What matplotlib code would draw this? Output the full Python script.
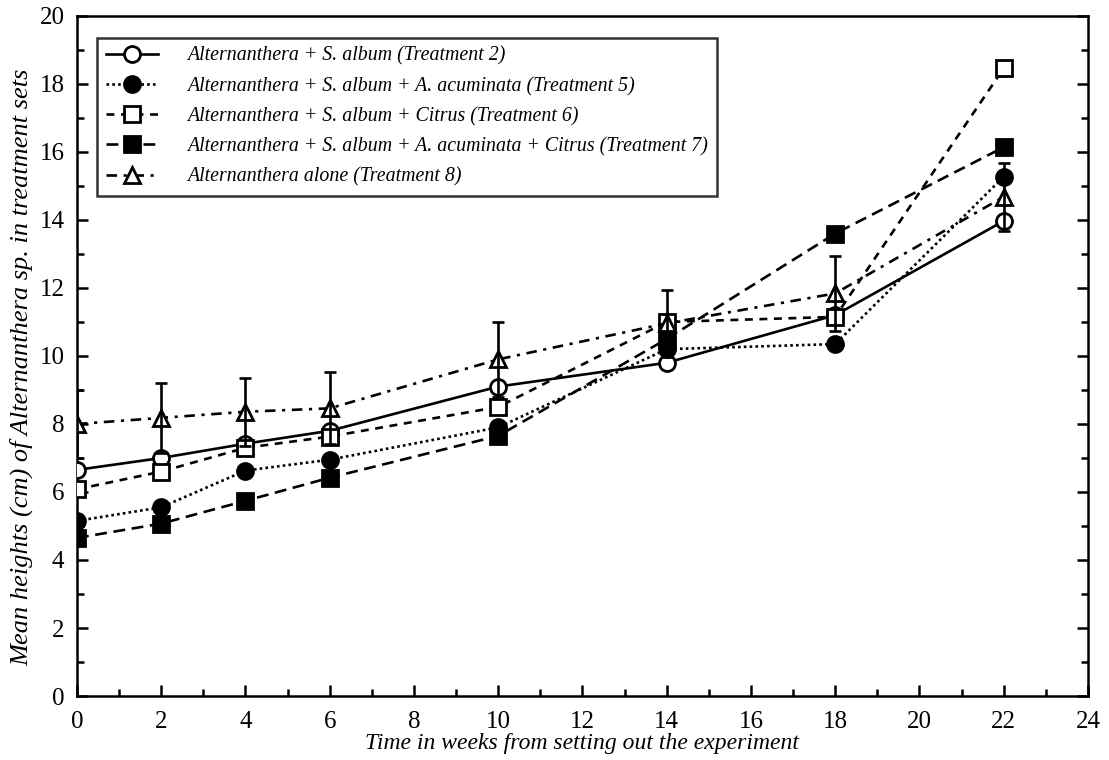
import matplotlib
matplotlib.use("Agg")
import matplotlib.pyplot as plt
from matplotlib.lines import Line2D
from matplotlib.ticker import MultipleLocator

weeks = [0, 2, 4, 6, 10, 14, 18, 22]

t2_heights = [6.65, 7.0, 7.42, 7.8, 9.1, 9.8, 11.2, 13.97]
t5_heights = [5.15, 5.55, 6.63, 6.95, 7.9, 10.2, 10.35, 15.27]
t6_heights = [6.08, 6.6, 7.3, 7.63, 8.5, 11.0, 11.15, 18.46]
t7_heights = [4.65, 5.07, 5.74, 6.42, 7.65, 10.5, 13.6, 16.14]
t8_heights = [8.0, 8.18, 8.36, 8.46, 9.9, 10.96, 11.84, 14.68]
t8_err = [1.0, 1.04, 1.0, 1.06, 1.1, 0.98, 1.1, 1.0]

labels = [
    "Alternanthera + S. album (Treatment 2)",
    "Alternanthera + S. album + A. acuminata (Treatment 5)",
    "Alternanthera + S. album + Citrus (Treatment 6)",
    "Alternanthera + S. album + A. acuminata + Citrus (Treatment 7)",
    "Alternanthera alone (Treatment 8)",
]

plt.rcParams["font.family"] = ["Liberation Serif", "DejaVu Serif"]

lw = 1.9
ms = 11.5

# marker / line style per treatment
styles = [
    dict(marker="o", linestyle="-", mfc="white"),
    dict(marker="o", linestyle=(0, (1, 1.2)), mfc="black"),
    dict(marker="s", linestyle=(0, (3, 2.5)), mfc="white"),
    dict(marker="s", linestyle=(0, (4.5, 2.5)), mfc="black"),
    dict(marker="^", linestyle=(0, (4, 2.5, 1.2, 2.5)), mfc="white"),
]
series = [t2_heights, t5_heights, t6_heights, t7_heights, t8_heights]


def marker_size(st):
    return ms + (0.5 if st["marker"] == "s" else 0)


def main():
    fig = plt.figure(figsize=(11.09, 7.6), dpi=100)
    ax = fig.add_axes([0.0694, 0.0842, 0.9116, 0.8948])

    for heights, st in zip(series, styles):
        ax.plot(
            weeks,
            heights,
            color="black",
            linewidth=lw,
            linestyle=st["linestyle"],
            marker=st["marker"],
            markersize=marker_size(st),
            markerfacecolor=st["mfc"],
            markeredgecolor="black",
            markeredgewidth=2,
            zorder=3,
        )

    ax.errorbar(
        weeks,
        t8_heights,
        yerr=t8_err,
        fmt="none",
        ecolor="black",
        elinewidth=lw,
        capsize=4,
        capthick=lw,
        zorder=4,
    )

    ax.set_xlim(0, 24)
    ax.set_ylim(0, 20)
    ax.xaxis.set_major_locator(MultipleLocator(2))
    ax.xaxis.set_minor_locator(MultipleLocator(1))
    ax.yaxis.set_major_locator(MultipleLocator(2))
    ax.yaxis.set_minor_locator(MultipleLocator(1))
    ax.tick_params(axis="both", which="both", direction="in", width=1.8, labelsize=18)
    ax.tick_params(axis="y", which="both", right=True)
    ax.tick_params(which="major", length=8)
    ax.tick_params(which="minor", length=5)
    ax.tick_params(axis="x", which="major", pad=11)
    ax.tick_params(axis="y", which="major", pad=9)
    for sp in ax.spines.values():
        sp.set_linewidth(1.8)

    ax.set_xlabel("Time in weeks from setting out the experiment",
                  fontsize=17, style="italic", labelpad=0)
    ax.set_ylabel("Mean heights (cm) of Alternanthera sp. in treatment sets",
                  fontsize=19, style="italic")
    ax.yaxis.set_label_coords(-0.043, 0.483)

    handles = [
        Line2D([], [], color="black", linewidth=lw, linestyle=st["linestyle"],
               marker=st["marker"], markersize=marker_size(st),
               markerfacecolor=st["mfc"], markeredgecolor="black", markeredgewidth=2)
        for st in styles
    ]
    leg = ax.legend(
        handles,
        labels,
        loc="upper left",
        bbox_to_anchor=(0.0198, 0.968),
        borderaxespad=0,
        prop={"style": "italic", "size": 14.3},
        frameon=True,
        fancybox=False,
        edgecolor="black",
        handlelength=2.6,
        handletextpad=1.5,
        labelspacing=0.55,
        borderpad=0.45,
    )
    leg.get_frame().set_linewidth(1.8)

    fig.savefig("out.png", dpi=100)
    plt.close(fig)


if __name__ == "__main__":
    main()
